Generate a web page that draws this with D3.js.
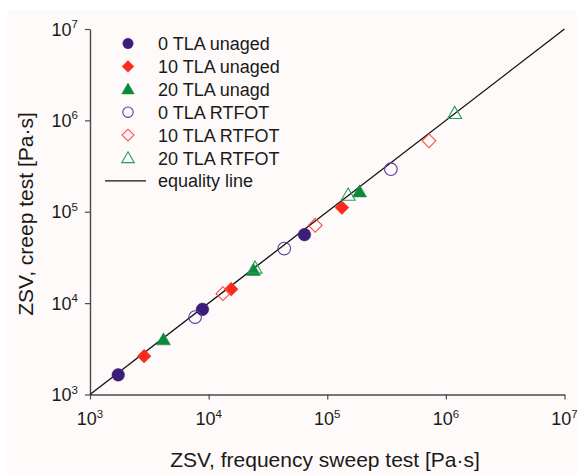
<!DOCTYPE html>
<html>
<head>
<meta charset="utf-8">
<script src="https://cdn.jsdelivr.net/npm/d3@7"></script>
<style>
  body { margin: 0; background: #fff; }
  svg { display: block; font-family: "Liberation Sans", Arial, sans-serif; }
</style>
</head>
<body>
<svg id="chart" width="577" height="475"></svg>
<script>
// values: [frequency sweep ZSV, creep ZSV] in Pa·s
const tla0Unaged = [[1730, 1640], [8870, 8550], [64300, 56200]];
const tla10Unaged = [[2860, 2630], [15500, 14200], [133000, 111000]];
const tla20Unaged = [[4160, 3970], [23900, 22800], [187000, 165000]];
const tla0Rtfot = [[7690, 7030], [43400, 39500], [344000, 292000]];
const tla10Rtfot = [[13200, 12700], [79200, 71100], [721000, 597000]];
const tla20Rtfot = [[24600, 24200], [150000, 152000], [1186000, 1190000]];
const equalityLine = [[1e3, 1e3], [1e7, 1e7]];
const tickExponents = [3, 4, 5, 6, 7];

const seriesNames = ["0 TLA unaged", "10 TLA unaged", "20 TLA unagd",
    "0 TLA RTFOT", "10 TLA RTFOT", "20 TLA RTFOT"];

const series = [
    {name: seriesNames[0], data: tla0Unaged, shape: "circle", color: "#3b1e77", filled: true},
    {name: seriesNames[1], data: tla10Unaged, shape: "diamond", color: "#fa2b1e", filled: true},
    {name: seriesNames[2], data: tla20Unaged, shape: "triangle", color: "#0b8a3c", filled: true},
    {name: seriesNames[3], data: tla0Rtfot, shape: "circle", color: "#5a3c9c", filled: false},
    {name: seriesNames[4], data: tla10Rtfot, shape: "diamond", color: "#fb4d44", filled: false},
    {name: seriesNames[5], data: tla20Rtfot, shape: "triangle", color: "#23a05a", filled: false}
];

const svg = d3.select("#chart");

svg.append("rect")
    .attr("x", 7).attr("y", 10)
    .attr("width", 570).attr("height", 465)
    .attr("fill", "#fdfaf9");

const x = d3.scaleLog().domain([1e3, 1e7]).range([90, 564.5]);
const y = d3.scaleLog().domain([1e3, 1e7]).range([394.5, 29]);

function symbolFor(shape, size) {
    const type = shape === "circle" ? d3.symbolCircle
        : shape === "diamond" ? d3.symbolSquare
        : d3.symbolTriangle;
    return d3.symbol().type(type).size(size)();
}

function drawMarker(g, s, cx, cy, big) {
    let size;
    if (s.shape === "circle") size = big ? 125 : 85;
    else if (s.shape === "diamond") size = big ? 95 : 70;
    else size = big ? 85 : 68;
    let tr = `translate(${cx},${cy})`;
    if (s.shape === "diamond") tr += " rotate(45)";
    if (s.shape === "triangle") tr += " translate(0,1)";
    g.append("path")
        .attr("d", symbolFor(s.shape, size))
        .attr("transform", tr)
        .attr("fill", s.filled ? s.color : "none")
        .attr("stroke", s.color)
        .attr("stroke-width", s.filled ? 0.5 : 1.1);
}

// axes
const tickVals = tickExponents.map(e => Math.pow(10, e));

const xAxis = svg.append("g")
    .attr("transform", `translate(0,${y(1e3)})`)
    .call(d3.axisBottom(x).tickValues(tickVals).tickSize(5).tickSizeOuter(0).tickFormat(""));
const yAxis = svg.append("g")
    .attr("transform", `translate(${x(1e3)},0)`)
    .call(d3.axisLeft(y).tickValues(tickVals).tickSize(5).tickSizeOuter(0).tickFormat(""));

[xAxis, yAxis].forEach(a => {
    a.select(".domain").attr("stroke", "#4a4a4a").attr("stroke-width", 1.4);
    a.selectAll(".tick line").attr("stroke", "#4a4a4a").attr("stroke-width", 1.2);
});

function powLabel(sel) {
    sel.append("tspan").text("10").attr("font-size", 18);
    sel.append("tspan").text(d => d).attr("font-size", 11.5).attr("dy", -7.5);
}

svg.append("g").selectAll("text")
    .data(tickExponents)
    .join("text")
    .attr("x", d => x(Math.pow(10, d)))
    .attr("y", 425)
    .attr("text-anchor", "middle")
    .attr("fill", "#1a1a1a")
    .call(powLabel);

svg.append("g").selectAll("text")
    .data(tickExponents)
    .join("text")
    .attr("x", 78)
    .attr("y", d => y(Math.pow(10, d)) + 6.5)
    .attr("text-anchor", "end")
    .attr("fill", "#1a1a1a")
    .call(powLabel);

// axis titles
svg.append("text")
    .attr("x", 325).attr("y", 467)
    .attr("text-anchor", "middle")
    .attr("font-size", 21)
    .attr("fill", "#1a1a1a")
    .text("ZSV, frequency sweep test [Pa\u00b7s]");

svg.append("text")
    .attr("transform", "translate(32.5,214) rotate(-90)")
    .attr("text-anchor", "middle")
    .attr("font-size", 21)
    .attr("fill", "#1a1a1a")
    .text("ZSV, creep test [Pa\u00b7s]");

// equality line
svg.append("path")
    .datum(equalityLine)
    .attr("d", d3.line().x(d => x(d[0])).y(d => y(d[1])))
    .attr("stroke", "#111")
    .attr("stroke-width", 1.3)
    .attr("fill", "none");

// points
const pts = svg.append("g");
series.forEach(s => {
    s.data.forEach(d => drawMarker(pts, s, x(d[0]), y(d[1]), true));
});

// legend
const legend = svg.append("g");
const rowY = i => 43.5 + i * 22.9;
series.forEach((s, i) => {
    drawMarker(legend, s, 128, rowY(i), false);
    legend.append("text")
        .attr("x", 158).attr("y", rowY(i) + 6.5)
        .attr("font-size", 18)
        .attr("fill", "#1a1a1a")
        .text(s.name);
});
legend.append("line")
    .attr("x1", 105).attr("x2", 146)
    .attr("y1", rowY(6)).attr("y2", rowY(6))
    .attr("stroke", "#111").attr("stroke-width", 1.3);
legend.append("text")
    .attr("x", 158).attr("y", rowY(6) + 6.5)
    .attr("font-size", 18)
    .attr("fill", "#1a1a1a")
    .text("equality line");
</script>
</body>
</html>
